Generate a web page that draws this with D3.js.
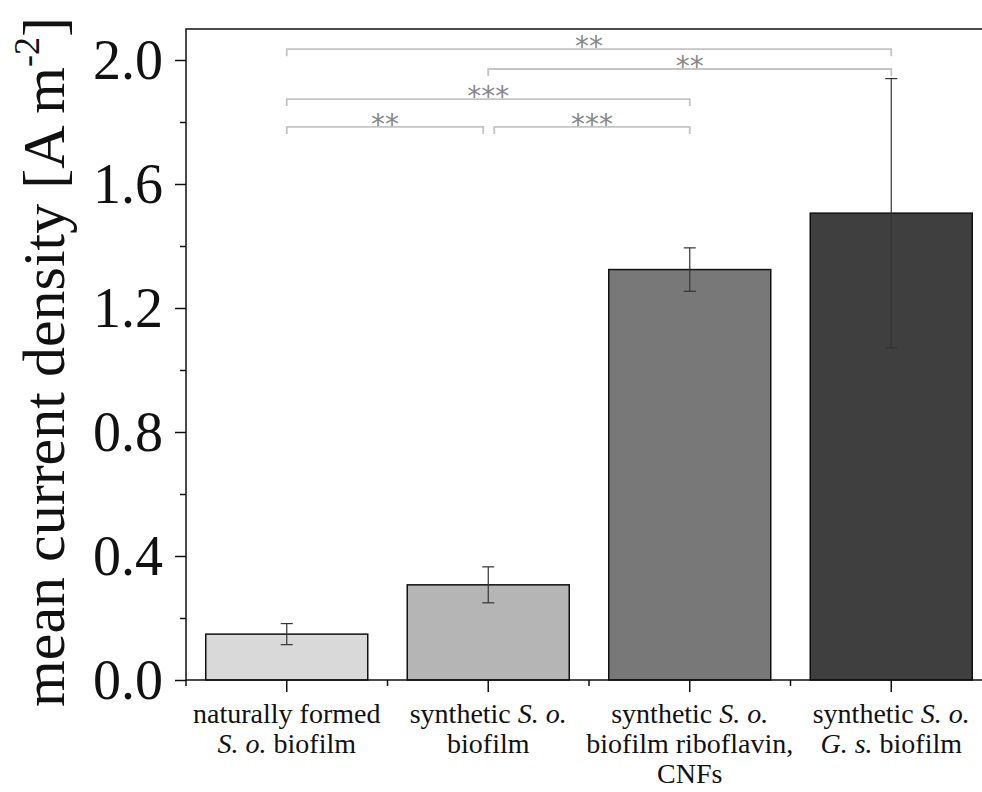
<!DOCTYPE html>
<html>
<head>
<meta charset="utf-8">
<script src="https://cdn.jsdelivr.net/npm/d3@7"></script>
<style>
  body { margin: 0; background: #fff; }
  text { font-family: "Liberation Serif", "Times New Roman", serif; }
</style>
</head>
<body>
<div id="chart"></div>
<script>
// categories, means and standard deviations
var categories = ["nat", "syn", "synRib", "synGs"];
var labels = [
  [[["naturally formed", false]], [["S. o.", true], [" biofilm", false]]],
  [[["synthetic ", false], ["S. o.", true]], [["biofilm", false]]],
  [[["synthetic ", false], ["S. o.", true]], [["biofilm riboflavin,", false]], [["CNFs", false]]],
  [[["synthetic ", false], ["S. o.", true]], [["G. s.", true], [" biofilm", false]]]
];
var means = [0.148, 0.307, 1.324, 1.506];
var errors = [0.034, 0.058, 0.070, 0.434];
var barColors = ["#d9d9d9", "#b5b5b5", "#787878", "#3f3f3f"];
var yTicks = [0, 0.4, 0.8, 1.2, 1.6, 2.0];
var yMinor = [0.2, 0.6, 1.0, 1.4, 1.8];

// significance brackets: from category, to category, height (A m-2), stars
var brFrom = [0, 1, 0, 0, 1];
var brTo = [3, 3, 2, 1, 2];
var brLevel = [2.035, 1.971, 1.874, 1.784, 1.784];
var brStars = ["**", "**", "***", "**", "***"];

var margin = { top: 29, right: -10, bottom: 112, left: 186 },
    W = 982, H = 792,
    width = W - margin.left - margin.right,
    height = H - margin.top - margin.bottom;

var svg = d3.select("#chart").append("svg")
    .attr("width", W)
    .attr("height", H);
svg.append("rect").attr("width", W).attr("height", H).attr("fill", "#fff");

var g = svg.append("g")
    .attr("transform", "translate(" + margin.left + "," + margin.top + ")");

var x = d3.scaleBand().domain(categories).range([0, width])
    .paddingInner(0.196).paddingOuter(0.098);
var y = d3.scaleLinear().domain([0, 2.1]).range([height, 0]);

// bars
g.selectAll(".bar").data(means).enter().append("rect")
    .attr("class", "bar")
    .attr("x", function(d, i) { return x(categories[i]); })
    .attr("y", function(d) { return y(d); })
    .attr("width", x.bandwidth())
    .attr("height", function(d) { return y(0) - y(d); })
    .attr("fill", function(d, i) { return barColors[i]; })
    .attr("stroke", "#111")
    .attr("stroke-width", 1.5);

// error bars
var eb = g.selectAll(".err").data(means).enter().append("g").attr("class", "err")
    .attr("stroke", "#333").attr("stroke-width", 1.2);
var cx = function(i) { return x(categories[i]) + x.bandwidth() / 2; };
eb.append("line")
    .attr("x1", function(d, i) { return cx(i); })
    .attr("x2", function(d, i) { return cx(i); })
    .attr("y1", function(d, i) { return y(d + errors[i]); })
    .attr("y2", function(d, i) { return y(d - errors[i]); });
eb.append("line")
    .attr("x1", function(d, i) { return cx(i) - 6; })
    .attr("x2", function(d, i) { return cx(i) + 6; })
    .attr("y1", function(d, i) { return y(d + errors[i]); })
    .attr("y2", function(d, i) { return y(d + errors[i]); });
eb.append("line")
    .attr("x1", function(d, i) { return cx(i) - 6; })
    .attr("x2", function(d, i) { return cx(i) + 6; })
    .attr("y1", function(d, i) { return y(d - errors[i]); })
    .attr("y2", function(d, i) { return y(d - errors[i]); });

// frame
g.append("rect").attr("width", width).attr("height", height)
    .attr("fill", "none").attr("stroke", "#111").attr("stroke-width", 1.5);

// y axis
var yAxis = g.append("g").call(d3.axisLeft(y).tickValues(yTicks).tickSize(11).tickPadding(12).tickFormat(d3.format(".1f")));
yAxis.select(".domain").remove();
yAxis.selectAll("line").attr("stroke", "#111").attr("stroke-width", 1.5);
yAxis.selectAll("text").attr("font-size", 56).attr("fill", "#111")
    .style("font-family", "Liberation Serif").attr("dy", "0.33em");
var yMin = g.append("g").call(d3.axisLeft(y).tickValues(yMinor).tickSize(6).tickFormat(""));
yMin.select(".domain").remove();
yMin.selectAll("line").attr("stroke", "#111").attr("stroke-width", 1.5);

// x axis: major ticks at centres, minor at band edges
var xAxis = g.append("g").attr("transform", "translate(0," + height + ")")
    .call(d3.axisBottom(x).tickSize(12).tickFormat(""));
xAxis.select(".domain").remove();
xAxis.selectAll("line").attr("stroke", "#111").attr("stroke-width", 1.5);
var step = x.step(), x0 = x(categories[0]) - x.paddingOuter() * step - x.paddingInner() * step / 2 + x.paddingInner() * step / 2;
g.append("g").selectAll("line").data(categories).enter().append("line")
    .attr("x1", function(d, i) { return cx(i) - step / 2; })
    .attr("x2", function(d, i) { return cx(i) - step / 2; })
    .attr("y1", height).attr("y2", height + 6)
    .attr("stroke", "#111").attr("stroke-width", 1.5);

// x labels
var lab = g.append("g").selectAll("text").data(labels).enter().append("text")
    .attr("text-anchor", "middle")
    .attr("font-size", 28)
    .attr("fill", "#111")
    .attr("transform", function(d, i) { return "translate(" + cx(i) + "," + (height + 43) + ")"; });
lab.each(function(lines) {
  var t = d3.select(this);
  lines.forEach(function(segs, li) {
    segs.forEach(function(s, si) {
      var ts = t.append("tspan").text(s[0]).attr("font-style", s[1] ? "italic" : "normal");
      if (si === 0) ts.attr("x", 0).attr("dy", li === 0 ? 0 : 30);
    });
  });
});

// y title
var yt = svg.append("text")
    .attr("transform", "translate(64,362) rotate(-90)")
    .attr("text-anchor", "middle")
    .attr("font-size", 60)
    .attr("fill", "#111");
yt.append("tspan").text("mean current density [A m");
yt.append("tspan").text("-2").attr("font-size", 36).attr("dy", -25);
yt.append("tspan").text("]").attr("dy", 25);

// significance brackets
var br = g.append("g").selectAll(".br").data(brLevel).enter().append("g").attr("class", "br");
var bx1 = function(i) {
  var adj = brTo[i] - brFrom[i] === 1;
  return cx(brFrom[i]) + (adj && brFrom[i] > 0 ? 6 : 0);
};
var bx2 = function(i) {
  var adj = brTo[i] - brFrom[i] === 1;
  return cx(brTo[i]) - (adj && brTo[i] === 1 ? 5 : 0);
};
br.append("path")
    .attr("d", function(d, i) {
      var yy = y(d);
      return "M" + bx1(i) + "," + (yy + 7) + "V" + yy + "H" + bx2(i) + "V" + (yy + 7);
    })
    .attr("fill", "none").attr("stroke", "#c4c4c4").attr("stroke-width", 1.8);
br.append("text")
    .attr("x", function(d, i) { return (bx1(i) + bx2(i)) / 2; })
    .attr("y", function(d) { return y(d) + 7; })
    .attr("text-anchor", "middle")
    .attr("font-size", 28)
    .attr("fill", "#888")
    .style("font-family", "DejaVu Sans")
    .text(function(d, i) { return brStars[i]; });
</script>
</body>
</html>
